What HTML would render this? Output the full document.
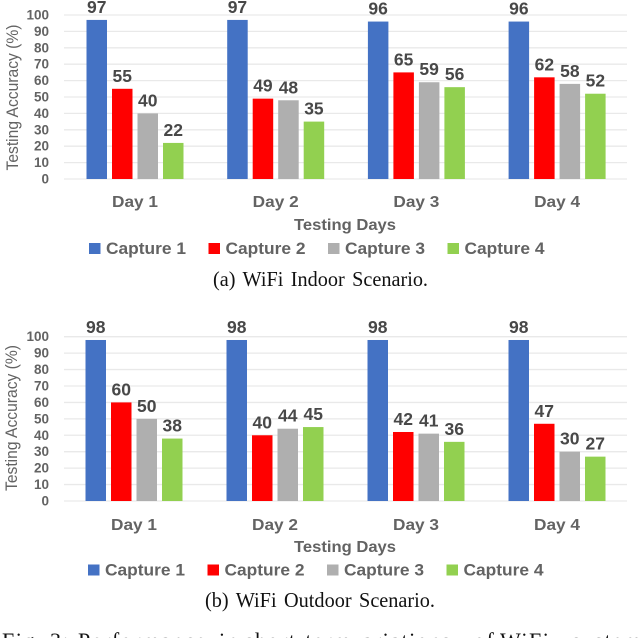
<!DOCTYPE html>
<html lang="en">
<head>
<meta charset="utf-8">
<title>WiFi Testing Accuracy</title>
<style>
html,body{margin:0;padding:0;background:#fff;width:640px;height:638px;overflow:hidden}
svg{display:block}
.sans{font-family:"Liberation Sans",sans-serif}
.serif{font-family:"Liberation Serif",serif;fill:#111}
</style>
</head>
<body>
<svg id="figure" width="640" height="638" viewBox="0 0 640 638" xmlns="http://www.w3.org/2000/svg">
<g id="chart-a"></g>
<g id="chart-b"></g>
<text class="serif" x="213" y="286" font-size="21" word-spacing="2.5" textLength="215" lengthAdjust="spacingAndGlyphs">(a) WiFi Indoor Scenario.</text>
<text class="serif" x="205" y="607" font-size="21" word-spacing="2.5" textLength="230" lengthAdjust="spacingAndGlyphs">(b) WiFi Outdoor Scenario.</text>
<text class="serif" y="648" font-size="22" letter-spacing="1.5"><tspan x="2">Fig.</tspan> <tspan x="50">3:</tspan> <tspan x="78">Performance</tspan> <tspan x="219">in</tspan> <tspan x="245">short-term</tspan> <tspan x="350">variations</tspan> <tspan x="474">of</tspan> <tspan x="500">WiFi</tspan> <tspan x="572">system</tspan></text>
</svg>
<script>
const days = ["Day 1", "Day 2", "Day 3", "Day 4"];
const seriesNames = ["Capture 1", "Capture 2", "Capture 3", "Capture 4"];
const yTicks = [0, 10, 20, 30, 40, 50, 60, 70, 80, 90, 100];
const indoorCapture1 = [97, 97, 96, 96];
const indoorCapture2 = [55, 49, 65, 62];
const indoorCapture3 = [40, 48, 59, 58];
const indoorCapture4 = [22, 35, 56, 52];
const outdoorCapture1 = [98, 98, 98, 98];
const outdoorCapture2 = [60, 40, 42, 47];
const outdoorCapture3 = [50, 44, 41, 30];
const outdoorCapture4 = [38, 45, 36, 27];

const colors = ["#4472c4", "#ff0000", "#afafaf", "#92d050"];
const NS = "http://www.w3.org/2000/svg";

function make(parent, tag, attrs, text) {
  const el = document.createElementNS(NS, tag);
  for (const k in attrs) el.setAttribute(k, attrs[k]);
  if (text !== undefined) el.textContent = text;
  parent.appendChild(el);
  return el;
}

function drawChart(rootId, series, layout) {
  const root = document.getElementById(rootId);
  const yScale = v => layout.y0 + (layout.y100 - layout.y0) * v / 100;
  const xBar = (d, s) => layout.firstBar + d * layout.groupStep + s * layout.barStep;
  const barWidth = 20.5;

  yTicks.forEach(t => {
    const line = make(root, "line", {x1: 64, x2: 627, y1: yScale(t), y2: yScale(t), stroke: "#e9e9e9", "stroke-width": 1.3});
    
    
    const label = make(root, "text", {x: 49, y: yScale(t) + 4.5, "text-anchor": "end", "font-size": 13.5, "font-weight": "bold", fill: "#636363", class: "sans"}, t);
    
    
  });

  series.forEach((values, s) => {
    values.forEach((v, d) => {
      const bar = make(root, "rect", {x: xBar(d, s), y: yScale(v), width: barWidth, height: layout.y0 - yScale(v), fill: colors[s]});
      
      
      const val = make(root, "text", {x: xBar(d, s) + barWidth / 2, y: yScale(v) - 7, "text-anchor": "middle", "font-size": 17.5, "font-weight": "bold", fill: "#484848", class: "sans"}, v);
      
      
    });
  });

  days.forEach((day, d) => {
    const label = make(root, "text", {x: xBar(d, 1) + barWidth + 2.5, y: layout.dayY, "text-anchor": "middle", "font-size": 16, "font-weight": "bold", fill: "#636363", class: "sans", textLength: 46, lengthAdjust: "spacingAndGlyphs"}, day);
    
    
  });

  const yTitle = make(root, "text", {transform: "translate(" + layout.yTitleX + "," + layout.yTitleY + ") rotate(-90)", "text-anchor": "middle", "font-size": 17, fill: "#636363", class: "sans", textLength: 146, lengthAdjust: "spacingAndGlyphs"}, "Testing Accuracy (%)");
  
  

  const xTitle = make(root, "text", {x: 345, y: layout.titleY, "text-anchor": "middle", "font-size": 16, "font-weight": "bold", fill: "#636363", class: "sans", textLength: 102, lengthAdjust: "spacingAndGlyphs"}, "Testing Days");
  
  

  seriesNames.forEach((name, s) => {
    const lx = layout.legendX + s * 119.5;
    const swatch = make(root, "rect", {x: lx, y: layout.legendY - 11, width: 11.5, height: 11, fill: colors[s]});
    
    
    const text = make(root, "text", {x: lx + 17, y: layout.legendY, "font-size": 17, "font-weight": "bold", fill: "#636363", class: "sans", textLength: 80, lengthAdjust: "spacingAndGlyphs"}, name);
    
    
  });
}

drawChart("chart-a",
  [indoorCapture1, indoorCapture2, indoorCapture3, indoorCapture4],
  {y0: 179, y100: 15, firstBar: 86.5, groupStep: 140.7, barStep: 25.5, dayY: 207, titleY: 230, legendX: 89, legendY: 254, yTitleX: 18, yTitleY: 97.5});

drawChart("chart-b",
  [outdoorCapture1, outdoorCapture2, outdoorCapture3, outdoorCapture4],
  {y0: 501, y100: 336.7, firstBar: 85.5, groupStep: 141, barStep: 25.5, dayY: 530, titleY: 552, legendX: 88, legendY: 575.5, yTitleX: 17, yTitleY: 418});
</script>
</body>
</html>
